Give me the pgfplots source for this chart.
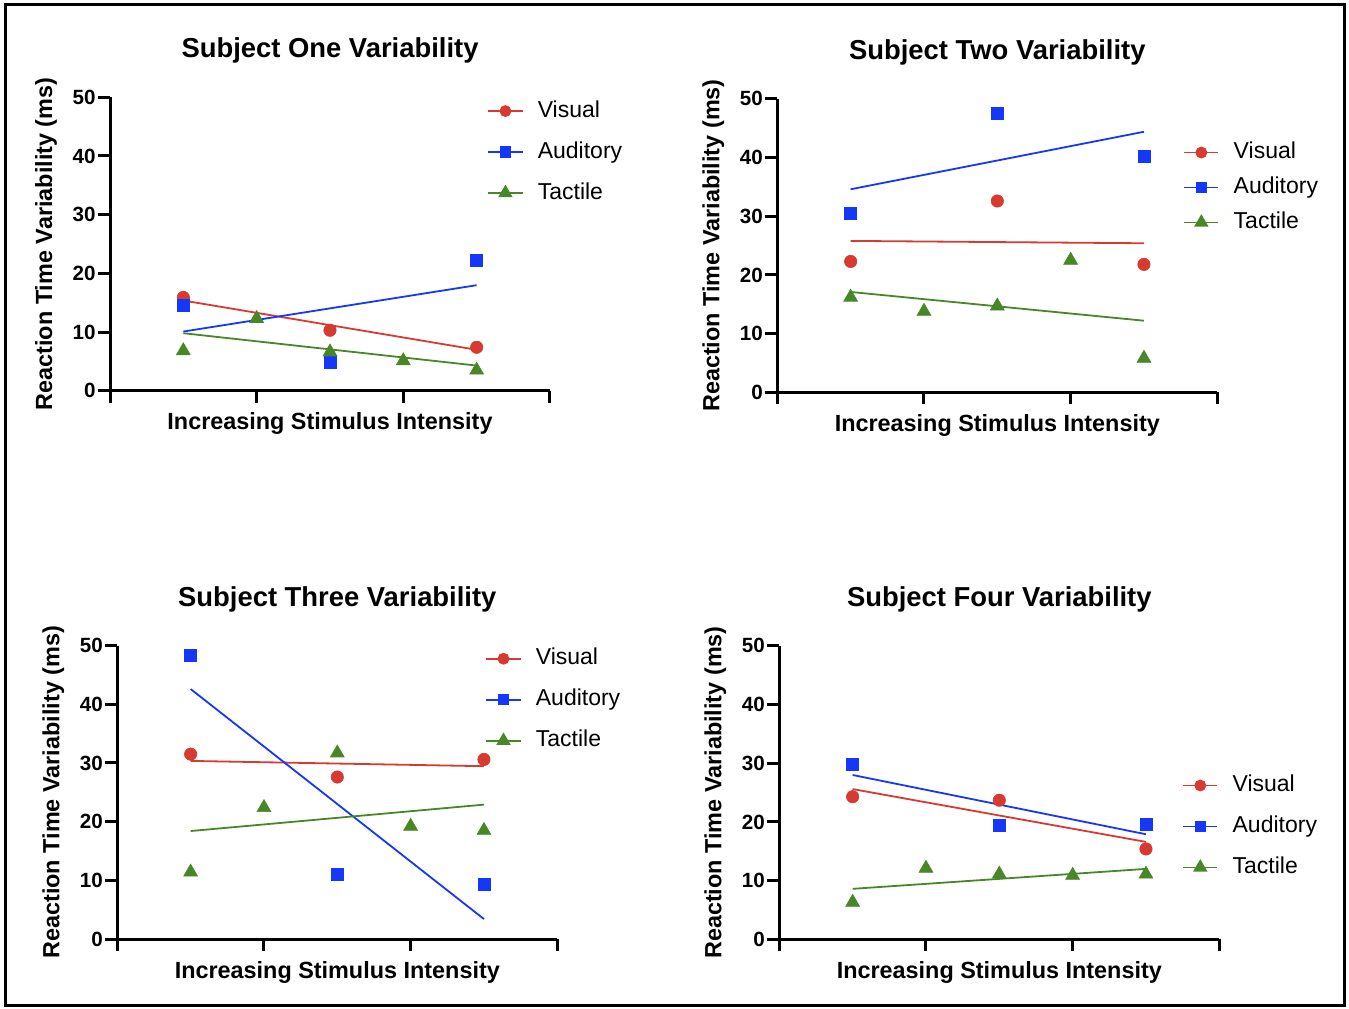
\documentclass[border=0pt]{standalone}
\usepackage{fontspec}
\setmainfont{Liberation Sans}
\usepackage{pgfplots}
\pgfplotsset{compat=1.18}

\definecolor{visred}{RGB}{214,58,48}
\definecolor{audblue}{RGB}{20,55,250}
\definecolor{tacgreen}{RGB}{72,135,40}

\pgfplotsset{
  panel/.style={
    scale only axis, width=220pt, height=146.7pt, anchor=south west,
    xmin=0, xmax=6, ymin=0, ymax=50,
    axis x line*=bottom, axis y line*=left,
    axis line style={line width=1.5pt},
    every tick/.style={line width=1.5pt, black},
    tick align=outside, major tick length=6pt,
    xtick={0,2,4,6}, xticklabels={},
    ytick={0,10,...,50},
    /pgf/number format/assume math mode=true,
    yticklabel style={font=\fontsize{10.3}{12}\selectfont\bfseries, inner sep=1pt},
    title style={font=\fontsize{13.7}{16}\selectfont\bfseries,
      at={(axis description cs:0.5,1.094)}, anchor=base},
    xlabel={Increasing Stimulus Intensity},
    ylabel={Reaction Time Variability (ms)},
    label style={font=\fontsize{11.7}{14}\selectfont\bfseries},
    xlabel style={at={(axis description cs:0.5,-0.1336)}, anchor=base},
    ylabel style={at={(axis description cs:-0.1318,0.5)}, anchor=base},
    clip=false,
    legend cell align=left,
    legend style={draw=none, fill=none, inner sep=0pt, anchor=north west,
      font=\fontsize{11.5}{13}\selectfont,
      nodes={inner sep=0pt, text height=8.5pt, text depth=2.5pt},
      row sep=9.5pt,
      /tikz/every odd column/.append style={column sep=7.2pt}},
  },
  fitline/.style={line width=0.9pt, no markers, forget plot},
  pts/.style={only marks, forget plot, mark options={line width=0.3pt}},
  legvis/.style={visred, line width=0.9pt, mark=*, mark size=2.5pt},
  legaud/.style={audblue, line width=0.9pt, mark=square*, mark size=2.4pt},
  legtac/.style={tacgreen, line width=0.9pt, mark=triangle*, mark size=3.3pt},
}

\begin{document}
\begin{tikzpicture}
\useasboundingbox (0,0) rectangle (674.5pt,504pt);
\draw[line width=1.5pt] (2.5pt,1.5pt) rectangle (672pt,501.5pt);

% Subject One
\begin{axis}[panel, at={(55pt,308.65pt)}, title={Subject One Variability},
  legend style={at={(axis description cs:0.857,0.992)}}]
\addlegendimage{legvis}\addlegendentry{Visual}
\addlegendimage{legaud}\addlegendentry{Auditory}
\addlegendimage{legtac}\addlegendentry{Tactile}
\addplot[fitline, visred] coordinates {(1,15.37) (5,6.97)};
\addplot[fitline, audblue] coordinates {(1,10.08) (5,17.98)};
\addplot[fitline, tacgreen] coordinates {(1,9.80) (5,4.28)};
\addplot[pts, visred, mark=*, mark size=3.1pt] coordinates {(1,15.9) (3,10.3) (5,7.4)};
\addplot[pts, audblue, mark=square*, mark size=3pt] coordinates {(1,14.5) (3,4.8) (5,22.3)};
\addplot[pts, tacgreen, mark=triangle*, mark size=4pt] coordinates {(1,6.8) (2,12.3) (3,6.6) (4,5.1) (5,3.5)};
\end{axis}

% Subject Two
\begin{axis}[panel, at={(388.65pt,307.85pt)}, title={Subject Two Variability},
  legend style={at={(axis description cs:0.922,0.856)}, row sep=6.5pt}]
\addlegendimage{legvis}\addlegendentry{Visual}
\addlegendimage{legaud}\addlegendentry{Auditory}
\addlegendimage{legtac}\addlegendentry{Tactile}
\addplot[fitline, visred] coordinates {(1,25.8) (5,25.4)};
\addplot[fitline, audblue] coordinates {(1,34.6) (5,44.4)};
\addplot[fitline, tacgreen] coordinates {(1,17.1) (5,12.2)};
\addplot[pts, visred, mark=*, mark size=3.1pt] coordinates {(1,22.3) (3,32.6) (5,21.8)};
\addplot[pts, audblue, mark=square*, mark size=3pt] coordinates {(1,30.5) (3,47.6) (5,40.3)};
\addplot[pts, tacgreen, mark=triangle*, mark size=4pt] coordinates {(1,16.2) (2,13.8) (3,14.7) (4,22.5) (5,5.8)};
\end{axis}

% Subject Three
\begin{axis}[panel, at={(58.65pt,34.5pt)}, title={Subject Three Variability},
  legend style={at={(axis description cs:0.836,0.994)}}]
\addlegendimage{legvis}\addlegendentry{Visual}
\addlegendimage{legaud}\addlegendentry{Auditory}
\addlegendimage{legtac}\addlegendentry{Tactile}
\addplot[fitline, visred] coordinates {(1,30.35) (5,29.45)};
\addplot[fitline, audblue] coordinates {(1,42.6) (5,3.4)};
\addplot[fitline, tacgreen] coordinates {(1,18.4) (5,22.9)};
\addplot[pts, visred, mark=*, mark size=3.1pt] coordinates {(1,31.5) (3,27.6) (5,30.6)};
\addplot[pts, audblue, mark=square*, mark size=3pt] coordinates {(1,48.4) (3,11.0) (5,9.4)};
\addplot[pts, tacgreen, mark=triangle*, mark size=4pt] coordinates {(1,11.4) (2,22.4) (3,31.7) (4,19.2) (5,18.5)};
\end{axis}

% Subject Four
\begin{axis}[panel, at={(389.65pt,34.35pt)}, title={Subject Four Variability},
  legend style={at={(axis description cs:0.915,0.563)}}]
\addlegendimage{legvis}\addlegendentry{Visual}
\addlegendimage{legaud}\addlegendentry{Auditory}
\addlegendimage{legtac}\addlegendentry{Tactile}
\addplot[fitline, visred] coordinates {(1,25.6) (5,16.6)};
\addplot[fitline, audblue] coordinates {(1,28.0) (5,17.9)};
\addplot[fitline, tacgreen] coordinates {(1,8.6) (5,12.0)};
\addplot[pts, visred, mark=*, mark size=3.1pt] coordinates {(1,24.3) (3,23.7) (5,15.4)};
\addplot[pts, audblue, mark=square*, mark size=3pt] coordinates {(1,29.8) (3,19.5) (5,19.6)};
\addplot[pts, tacgreen, mark=triangle*, mark size=4pt] coordinates {(1,6.3) (2,12.1) (3,11.1) (4,10.9) (5,11.1)};
\end{axis}
\end{tikzpicture}
\end{document}
